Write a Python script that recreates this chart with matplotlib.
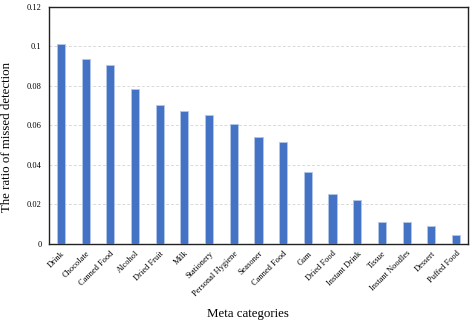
import matplotlib.pyplot as plt
import numpy as np

# data
categories = ['Drink', 'Chocolate', 'Canned Food', 'Alcohol', 'Dried Fruit', 'Milk',
              'Stationery', 'Personal Hygiene', 'Seasoner', 'Canned Food', 'Gum',
              'Dried Food', 'Instant Drink', 'Tissue', 'Instant Noodles', 'Dessert',
              'Puffed Food']
ratios = [0.1012, 0.0936, 0.0907, 0.0782, 0.0703, 0.0671, 0.0654, 0.0607, 0.0543,
          0.0516, 0.0364, 0.0253, 0.0224, 0.0113, 0.0109, 0.0091, 0.0046]
yticks = [0, 0.02, 0.04, 0.06, 0.08, 0.1, 0.12]
ytick_labels = ['0', '0.02', '0.04', '0.06', '0.08', '0.1', '0.12']

plt.rcParams['font.family'] = ['Liberation Serif', 'DejaVu Serif']

fig = plt.figure(figsize=(4.76, 3.27), dpi=100)
ax = fig.add_axes([0.102, 0.254, 0.882, 0.725])

x = np.arange(len(categories))
ax.bar(x, ratios, width=0.33, color='#4472C4', edgecolor='#b4c7e7', linewidth=0.6, zorder=3)

ax.set_xlim(-0.5, len(categories) - 0.5)
ax.set_ylim(0, 0.12)
ax.set_yticks(yticks)
ax.set_yticklabels(ytick_labels, fontsize=6)
ax.set_xticks(x)
ax.set_xticklabels(categories, rotation=45, ha='right', rotation_mode='anchor', fontsize=6)
ax.tick_params(axis='y', length=0, pad=5)
ax.tick_params(axis='x', length=0, pad=4)

ax.yaxis.grid(True, linestyle=(0, (3, 2)), color='#d9d9d9', linewidth=0.7, zorder=0)
for s in ax.spines.values():
    s.set_linewidth(1.0)
    s.set_color('#222222')

ax.set_ylabel('The ratio of missed detection', fontsize=9.3)
ax.set_xlabel('Meta categories', fontsize=9.3)
# labels sit a little off-centre in the original
ax.yaxis.set_label_coords(-0.085, 0.45)
ax.xaxis.set_label_coords(0.475, -0.27)

plt.savefig('out.png', dpi=100)
plt.close()
